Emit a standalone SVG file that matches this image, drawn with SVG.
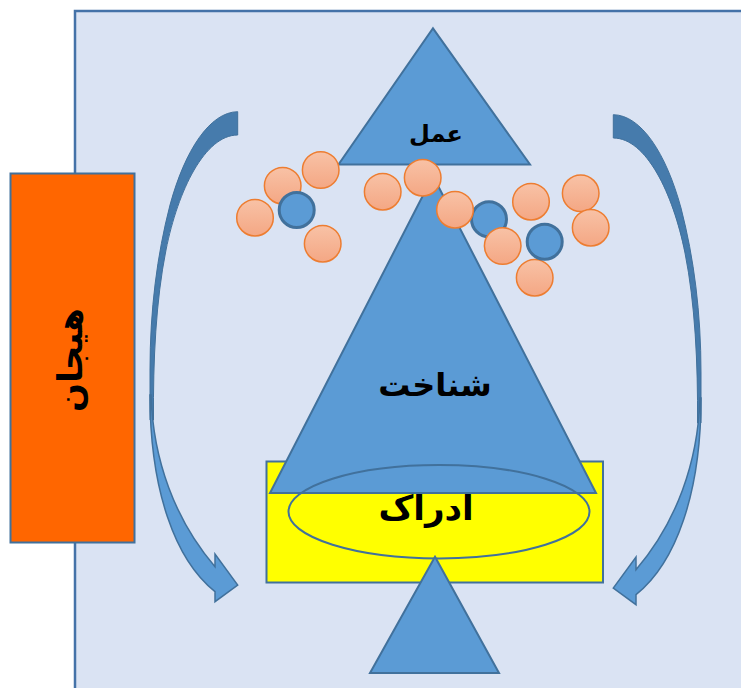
<svg xmlns="http://www.w3.org/2000/svg" width="741" height="688" viewBox="0 0 741 688">
  <defs>
    <linearGradient id="peach" x1="0" y1="0" x2="0" y2="1">
      <stop offset="0" stop-color="#F8C2A6"/>
      <stop offset="1" stop-color="#F4A784"/>
    </linearGradient>
    <style>
      .shape { fill: #5B9BD5; stroke: #41719C; stroke-width: 2; stroke-linejoin: miter; }
      .dot { fill: url(#peach); stroke: #ED7D31; stroke-width: 1.5; }
      .core { fill: #5B9BD5; stroke: #41719C; stroke-width: 3; }
      .back { fill: #467BAC; stroke: #41719C; stroke-width: 1; }
      .front { fill: #5B9BD5; stroke: #41719C; stroke-width: 1.5; stroke-linejoin: miter; }
      .label { font-family: "DejaVu Sans", sans-serif; font-weight: bold; fill: #000; text-anchor: middle; }
    </style>
    <!-- curved arrow, drawn for the left side; the right one is its mirror -->
    <g id="curved-arrow">
      <path class="back" d="M237.7,111.7 C210,112 185,150 170,205 C157,255 150,310 150,370 L150,420 L153.5,420 C153,360 156,300 166,250 C178,190 205,135 237.7,135 Z"/>
      <path class="front" d="M151,395 C153,460 175,520 215,566.7 L215,554 L237.7,585 L215,601.7 L215,591.7 C175,560 150,490 150,395 Z"/>
    </g>
  </defs>

  <!-- background panel -->
  <rect id="panel" x="75" y="11" width="700" height="700" fill="#DAE3F3" stroke="#4472A8" stroke-width="2.5"/>

  <!-- emotion bar -->
  <g id="emotion">
    <rect x="10.5" y="173.5" width="124" height="369" fill="#FF6600" stroke="#41719C" stroke-width="2"/>
    <text class="label" transform="translate(70,360) rotate(-90)" y="12" font-size="34">هیجان</text>
  </g>

  <!-- perception box -->
  <g id="perception-box">
    <rect x="266.5" y="461.5" width="336.5" height="121" fill="#FFFF00" stroke="#41719C" stroke-width="2"/>
  </g>

  <!-- cognition triangle -->
  <g id="cognition">
    <polygon class="shape" points="433,176 596,493 270,493"/>
    <text class="label" x="435" y="396" font-size="32">شناخت</text>
  </g>

  <!-- perception ellipse and label -->
  <g id="perception">
    <ellipse cx="439" cy="511.7" rx="150.5" ry="46.7" fill="none" stroke="#41719C" stroke-width="2"/>
    <text class="label" x="426" y="520" font-size="34">ادراک</text>
  </g>

  <!-- base triangle -->
  <g id="base">
    <polygon class="shape" points="435,556.7 499,673 370,673"/>
  </g>

  <!-- action triangle -->
  <g id="action">
    <polygon class="shape" points="433,28.3 530,164.5 338.5,164.5"/>
    <text class="label" x="436" y="142" font-size="24">عمل</text>
  </g>

  <!-- particles -->
  <g id="particles">
    <circle class="dot" cx="255" cy="217.7" r="18.3"/>
    <circle class="dot" cx="282.7" cy="185.7" r="18.3"/>
    <circle class="dot" cx="320.7" cy="170" r="18.3"/>
    <circle class="core" cx="296.7" cy="210" r="17.5"/>
    <circle class="dot" cx="322.7" cy="243.7" r="18.3"/>
    <circle class="dot" cx="382.7" cy="191.7" r="18.3"/>
    <circle class="dot" cx="422.7" cy="177.7" r="18.3"/>
    <circle class="core" cx="489" cy="219.3" r="17.5"/>
    <circle class="dot" cx="455" cy="209.7" r="18.3"/>
    <circle class="dot" cx="502.7" cy="246" r="18.3"/>
    <circle class="dot" cx="531" cy="201.7" r="18.3"/>
    <circle class="dot" cx="534.7" cy="277.7" r="18.3"/>
    <circle class="core" cx="544.7" cy="241.7" r="17.5"/>
    <circle class="dot" cx="580.7" cy="193.3" r="18.3"/>
    <circle class="dot" cx="590.7" cy="227.7" r="18.3"/>
  </g>

  <!-- connectors -->
  <g id="connectors">
    <use href="#curved-arrow"/>
    <use href="#curved-arrow" transform="matrix(-1,0,0,1,851,3)"/>
  </g>
</svg>
